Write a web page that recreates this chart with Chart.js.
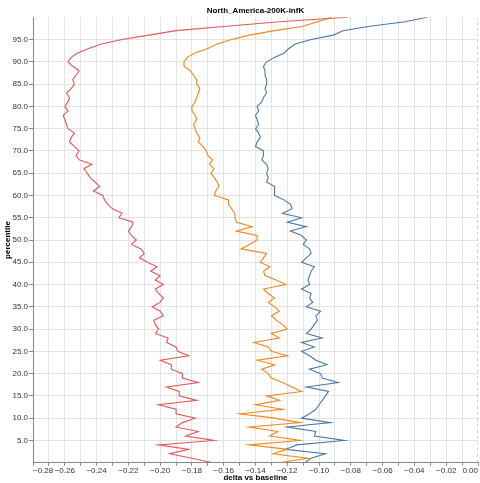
<!DOCTYPE html>
<html>
<head>
<meta charset="utf-8">
<script src="https://cdn.jsdelivr.net/npm/chart.js@4/dist/chart.umd.min.js"></script>
<style>
  html, body { margin: 0; padding: 0; background: #fff; }
  #wrap { width: 480px; height: 483px; }
</style>
</head>
<body>
<div id="wrap"><canvas id="deltaChart" width="480" height="483"></canvas></div>
<script>
// percentiles (y axis)
const percentiles = [
  0, 1, 2, 3, 4, 5, 6, 7, 8, 9, 10, 11, 12, 13, 14, 15, 16, 17, 18, 19,
  20, 21, 22, 23, 24, 25, 26, 27, 28, 29, 30, 31, 32, 33, 34, 35, 36, 37, 38, 39,
  40, 41, 42, 43, 44, 45, 46, 47, 48, 49, 50, 51, 52, 53, 54, 55, 56, 57, 58, 59,
  60, 61, 62, 63, 64, 65, 66, 67, 68, 69, 70, 71, 72, 73, 74, 75, 76, 77, 78, 79,
  80, 81, 82, 83, 84, 85, 86, 87, 88, 89, 90, 91, 92, 93, 94, 95, 96, 97, 98, 99, 100
];

// delta vs baseline, one value per percentile
const redDelta = [
  -0.167, -0.180, -0.194, -0.182, -0.201, -0.166, -0.184, -0.176, -0.190, -0.186,
  -0.178, -0.190, -0.190, -0.201, -0.177, -0.188, -0.188, -0.196, -0.176, -0.186,
  -0.186, -0.193, -0.193, -0.200, -0.182, -0.189, -0.190, -0.196, -0.195, -0.203,
  -0.201, -0.203, -0.204, -0.198, -0.200, -0.205, -0.200, -0.198, -0.201, -0.203,
  -0.198, -0.203, -0.200, -0.206, -0.202, -0.208, -0.213, -0.210, -0.212, -0.218,
  -0.215, -0.218, -0.220, -0.218, -0.217, -0.226, -0.224, -0.230, -0.233, -0.235,
  -0.236, -0.242, -0.238, -0.241, -0.244, -0.246, -0.248, -0.243, -0.251, -0.253,
  -0.251, -0.254, -0.257, -0.256, -0.254, -0.258, -0.259, -0.260, -0.261, -0.258,
  -0.260, -0.258, -0.257, -0.259, -0.256, -0.254, -0.255, -0.253, -0.251, -0.255,
  -0.258, -0.256, -0.252, -0.245, -0.237, -0.224, -0.207, -0.190, -0.158, -0.125,
  -0.082
];
const orangeDelta = [
  -0.125, -0.107, -0.129, -0.120, -0.144, -0.112, -0.131, -0.126, -0.144, -0.112,
  -0.128, -0.150, -0.123, -0.140, -0.125, -0.133, -0.111, -0.117, -0.123, -0.130,
  -0.132, -0.136, -0.128, -0.139, -0.120, -0.130, -0.132, -0.141, -0.125, -0.130,
  -0.120, -0.123, -0.127, -0.130, -0.125, -0.128, -0.132, -0.128, -0.132, -0.135,
  -0.121, -0.127, -0.134, -0.135, -0.131, -0.137, -0.135, -0.133, -0.149, -0.144,
  -0.139, -0.139, -0.152, -0.142, -0.152, -0.153, -0.153, -0.155, -0.157, -0.157,
  -0.166, -0.165, -0.163, -0.164, -0.166, -0.168, -0.166, -0.169, -0.167, -0.170,
  -0.171, -0.173, -0.176, -0.175, -0.177, -0.178, -0.179, -0.177, -0.178, -0.180,
  -0.180, -0.178, -0.177, -0.176, -0.175, -0.177, -0.177, -0.179, -0.181, -0.185,
  -0.185, -0.183, -0.178, -0.170, -0.164, -0.155, -0.144, -0.128, -0.110, -0.101,
  -0.092
];
const blueDelta = [
  -0.109, -0.105, -0.096, -0.121, -0.114, -0.084, -0.103, -0.102, -0.120, -0.093,
  -0.111, -0.106, -0.102, -0.100, -0.098, -0.096, -0.094, -0.108, -0.088, -0.098,
  -0.099, -0.106, -0.095, -0.102, -0.106, -0.111, -0.103, -0.111, -0.098, -0.108,
  -0.105, -0.103, -0.101, -0.102, -0.099, -0.108, -0.104, -0.106, -0.105, -0.111,
  -0.106, -0.107, -0.106, -0.105, -0.103, -0.111, -0.108, -0.105, -0.106, -0.110,
  -0.108, -0.111, -0.118, -0.108, -0.120, -0.111, -0.123, -0.117, -0.118, -0.122,
  -0.128, -0.128, -0.128, -0.133, -0.132, -0.133, -0.132, -0.133, -0.136, -0.135,
  -0.135, -0.140, -0.139, -0.137, -0.138, -0.140, -0.138, -0.139, -0.140, -0.138,
  -0.139, -0.136, -0.135, -0.133, -0.134, -0.133, -0.133, -0.134, -0.134, -0.135,
  -0.133, -0.128, -0.122, -0.119, -0.115, -0.105, -0.091, -0.085, -0.068, -0.046,
  -0.032
];

// dashed rule at zero delta
const zeroRuleX = [0, 0];
const zeroRuleY = [0, 100];

// y tick labels
const yTicks = [5, 10, 15, 20, 25, 30, 35, 40, 45, 50, 55, 60, 65, 70, 75, 80, 85, 90, 95];

const chartTitle = 'North_America-200K-infK';

function toPoints(xs, ys) {
  return xs.map((x, i) => ({ x: x, y: ys[i] }));
}

const fontFamily = "'Liberation Sans', Arial, Helvetica, sans-serif";
const font = { family: fontFamily, size: 8 };
const boldFont = { family: fontFamily, size: 8, weight: 'bold' };

const lineStyle = { pointRadius: 0, borderWidth: 1.1, tension: 0, fill: false };

// title centred over the plot area, not the whole canvas
const plotTitle = {
  id: 'plotTitle',
  afterDraw(chart) {
    const ctx = chart.ctx;
    const area = chart.chartArea;
    ctx.save();
    ctx.font = 'bold 8px ' + fontFamily;
    ctx.fillStyle = '#000';
    ctx.textAlign = 'center';
    ctx.textBaseline = 'middle';
    ctx.fillText(chartTitle, (area.left + area.right) / 2, 10.5);
    ctx.restore();
  }
};

new Chart(document.getElementById('deltaChart').getContext('2d'), {
  type: 'line',
  data: {
    datasets: [
      Object.assign({ label: 'red', data: toPoints(redDelta, percentiles), borderColor: '#e45756' }, lineStyle),
      Object.assign({ label: 'orange', data: toPoints(orangeDelta, percentiles), borderColor: '#f58518' }, lineStyle),
      Object.assign({ label: 'blue', data: toPoints(blueDelta, percentiles), borderColor: '#4c78a8' }, lineStyle),
      {
        label: 'zero',
        data: toPoints(zeroRuleX, zeroRuleY),
        borderColor: '#9a9a9a',
        borderWidth: 1,
        borderDash: [3, 3],
        pointRadius: 0
      }
    ]
  },
  plugins: [plotTitle],
  options: {
    responsive: false,
    animation: false,
    indexAxis: 'y',
    layout: { padding: { top: 17.3, right: 2, bottom: 0, left: 0 } },
    plugins: {
      legend: { display: false },
      tooltip: { enabled: false },
      title: { display: false }
    },
    scales: {
      x: {
        type: 'linear',
        min: -0.28,
        max: 0,
        afterFit: function(scale) { scale.height = 20.3; },
        ticks: {
          stepSize: 0.01,
          autoSkip: false,
          maxRotation: 0,
          align: 'inner',
          padding: 0,
          color: '#333',
          font: font,
          callback: function(value) {
            const n = Math.round(value * 100);
            if (n % 2 !== 0) return '';
            return (n < 0 ? '\u2212' : '') + Math.abs(n / 100).toFixed(2);
          }
        },
        grid: {
          color: function(ctx) {
            return ctx.tick && Math.round(ctx.tick.value * 100) === 0 ? 'rgba(0,0,0,0)' : '#e3e3e3';
          },
          tickColor: '#888',
          tickLength: 3
        },
        border: { color: '#888', width: 1 },
        title: {
          display: true,
          text: 'delta vs baseline',
          color: '#000',
          font: boldFont,
          padding: { top: 0, bottom: 0 }
        }
      },
      y: {
        type: 'linear',
        min: 0,
        max: 100,
        afterFit: function(scale) { scale.width = 33; },
        afterBuildTicks: function(scale) {
          scale.ticks = yTicks.map(v => ({ value: v }));
        },
        ticks: {
          color: '#333',
          font: font,
          padding: 1,
          callback: function(value) { return value.toFixed(1); }
        },
        grid: { color: '#e3e3e3', tickColor: '#888', tickLength: 4 },
        border: { color: '#888', width: 1 },
        title: {
          display: true,
          text: 'percentile',
          color: '#000',
          font: boldFont,
          padding: { top: 3, bottom: 0 }
        }
      }
    }
  }
});
</script>
</body>
</html>
